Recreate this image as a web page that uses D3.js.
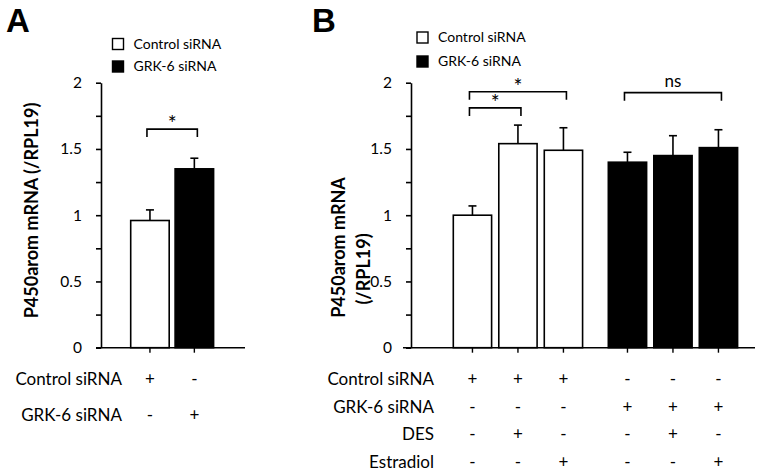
<!DOCTYPE html>
<html><head><meta charset="utf-8">
<script src="https://cdn.jsdelivr.net/npm/d3@7"></script>
<style>html,body{margin:0;padding:0;background:#fff;} svg{display:block;}</style>
</head><body>
<svg id="chart" width="762" height="476"></svg>
<script>
// ---- data ----
const legendLabels = ["Control siRNA", "GRK-6 siRNA"];
const yTicks = [0, 0.25, 0.5, 0.75, 1, 1.25, 1.5, 1.75, 2];
const yTickLabels = ["0", "", "0.5", "", "1", "", "1.5", "", "2"];

const categoriesA = ["Control siRNA", "GRK-6 siRNA"];
const valuesA = [0.96, 1.35];
const errorsA = [0.08, 0.08];
const rowLabelsA = ["Control siRNA", "GRK-6 siRNA"];
const rowSignsA = [["+", "-"], ["-", "+"]];
const bracketsA = [{ from: 0, to: 1, level: 1.65, label: "*" }];

const groupsB = ["Control siRNA", "GRK-6 siRNA"];
const conditionsB = ["Vehicle", "DES", "Estradiol"];
const valuesB = [1.00, 1.54, 1.49, 1.40, 1.45, 1.51];
const errorsB = [0.07, 0.14, 0.17, 0.075, 0.15, 0.135];
const rowLabelsB = ["Control siRNA", "GRK-6 siRNA", "DES", "Estradiol"];
const rowSignsB = [
  ["+", "+", "+", "-", "-", "-"],
  ["-", "-", "-", "+", "+", "+"],
  ["-", "+", "-", "-", "+", "-"],
  ["-", "-", "+", "-", "-", "+"]
];
const bracketsB = [
  { from: 0, to: 1, level: 1.81, label: "*" },
  { from: 0, to: 2, level: 1.932, label: "*" },
  { from: 3, to: 5, level: 1.925, label: "ns" }
];

// ---- drawing ----
const svg = d3.select("#chart");
const FONT = "Lato, 'Open Sans', sans-serif";
const y = d3.scaleLinear().domain([0, 2]).range([347.7, 82.7]);

function yAxis(g, x0) {
  const ax = d3.axisLeft(y).tickValues(yTicks)
    .tickFormat((d, i) => yTickLabels[i]).tickSize(5).tickSizeOuter(0).tickPadding(14);
  g.attr("transform", `translate(${x0},0)`).call(ax);
  g.select(".domain").attr("stroke", "#000").attr("stroke-width", 1.6);
  g.selectAll(".tick line").attr("stroke", "#000").attr("stroke-width", 1.6);
  g.selectAll(".tick text").attr("font-family", FONT).attr("font-size", 15.5).attr("fill", "#000");
}

function xAxisLine(g, x0, x1, centers) {
  g.append("line").attr("x1", x0).attr("x2", x1).attr("y1", y(0)).attr("y2", y(0))
    .attr("stroke", "#000").attr("stroke-width", 1.6);
  g.selectAll("line.tk").data(centers).join("line").attr("class", "tk")
    .attr("x1", d => d).attr("x2", d => d).attr("y1", y(0)).attr("y2", y(0) + 5)
    .attr("stroke", "#000").attr("stroke-width", 1.4);
}

function bars(g, data) {
  g.selectAll("line.err").data(data).join("line").attr("class", "err")
    .attr("x1", d => d.x + d.w / 2).attr("x2", d => d.x + d.w / 2)
    .attr("y1", d => y(d.v)).attr("y2", d => y(d.v + d.e))
    .attr("stroke", "#000").attr("stroke-width", 1.6);
  g.selectAll("line.cap").data(data).join("line").attr("class", "cap")
    .attr("x1", d => d.x + d.w / 2 - 4).attr("x2", d => d.x + d.w / 2 + 4)
    .attr("y1", d => y(d.v + d.e)).attr("y2", d => y(d.v + d.e))
    .attr("stroke", "#000").attr("stroke-width", 1.6);
  g.selectAll("rect.bar").data(data).join("rect").attr("class", "bar")
    .attr("x", d => d.x).attr("width", d => d.w)
    .attr("y", d => y(d.v)).attr("height", d => y(0) - y(d.v))
    .attr("fill", d => d.fill).attr("stroke", "#000").attr("stroke-width", 1.6);
}

function brackets(g, list, centers) {
  list.forEach(b => {
    const x1 = centers[b.from] - 3, x2 = centers[b.to] + 3;
    const yl = y(b.level);
    g.append("path").attr("d", `M${x1},${yl + 8}V${yl}H${x2}V${yl + 8}`)
      .attr("fill", "none").attr("stroke", "#000").attr("stroke-width", 1.6);
    g.append("text").attr("x", (x1 + x2) / 2).attr("y", b.label === "*" ? yl + 2 : yl - 6)
      .attr("text-anchor", "middle").attr("font-family", FONT)
      .attr("font-size", b.label === "*" ? 21 : 17).text(b.label);
  });
}

function legend(g, x0, y0, gap) {
  legendLabels.forEach((t, i) => {
    g.append("rect").attr("x", x0).attr("y", y0 + i * gap).attr("width", 11).attr("height", 11)
      .attr("fill", i === 0 ? "#fff" : "#000").attr("stroke", "#000").attr("stroke-width", 1.4);
    g.append("text").attr("x", x0 + 21).attr("y", y0 + i * gap + 10)
      .attr("font-family", FONT).attr("font-size", 14).text(t);
  });
}

function table(g, labels, signs, labelX, centers, y0, dy) {
  labels.forEach((lab, r) => {
    g.append("text").attr("x", labelX).attr("y", y0 + r * dy).attr("text-anchor", "end")
      .attr("font-family", FONT).attr("font-size", 17).text(lab);
    signs[r].forEach((s, c) => {
      g.append("text").attr("x", centers[c]).attr("y", y0 + r * dy).attr("text-anchor", "middle")
        .attr("font-family", FONT).attr("font-size", 17).text(s);
    });
  });
}

// ---- Panel A ----
const gA = svg.append("g");
const xA = d3.scaleBand().domain(categoriesA).range([130.7, 213.6]).paddingInner(0.133).paddingOuter(0);
const centersA = categoriesA.map(c => xA(c) + xA.bandwidth() / 2);
gA.append("text").attr("x", 6).attr("y", 32).attr("font-family", "'Liberation Sans', Arial, sans-serif")
  .attr("font-weight", "bold").attr("font-size", 33).text("A");
legend(gA, 112.5, 38.5, 22.5);
yAxis(gA.append("g"), 101);
xAxisLine(gA, 96, 245, centersA);
bars(gA, categoriesA.map((c, i) => ({ x: xA(c), w: xA.bandwidth(), v: valuesA[i], e: errorsA[i], fill: i === 0 ? "#fff" : "#000" })));
brackets(gA, bracketsA, centersA);
gA.append("text").attr("transform", "translate(38,210.5) rotate(-90)").attr("text-anchor", "middle")
  .attr("font-family", FONT).attr("font-weight", "bold").attr("font-size", 18).text("P450arom mRNA (/RPL19)");
table(gA, rowLabelsA, rowSignsA, 122, centersA, 385, 36);

// ---- Panel B ----
const gB = svg.append("g");
const xGroup = d3.scaleBand().domain(groupsB).range([453.3, 737.6]).paddingInner(0.166).paddingOuter(0);
const xInner = d3.scaleBand().domain(conditionsB).range([0, xGroup.bandwidth()]).paddingInner(0.158).paddingOuter(0);
const barsB = [];
groupsB.forEach((gname, gi) => conditionsB.forEach((cname, ci) => {
  const i = gi * conditionsB.length + ci;
  barsB.push({ x: xGroup(gname) + xInner(cname), w: xInner.bandwidth(), v: valuesB[i], e: errorsB[i], fill: gi === 0 ? "#fff" : "#000" });
}));
const centersB = barsB.map(d => d.x + d.w / 2);
gB.append("text").attr("x", 312).attr("y", 32).attr("font-family", "'Liberation Sans', Arial, sans-serif")
  .attr("font-weight", "bold").attr("font-size", 33).text("B");
legend(gB, 417, 32, 24);
yAxis(gB.append("g"), 411);
xAxisLine(gB, 403, 755, centersB);
bars(gB, barsB);
brackets(gB, bracketsB, centersB);
gB.append("text").attr("transform", "translate(345,247.5) rotate(-90)").attr("text-anchor", "middle")
  .attr("font-family", FONT).attr("font-weight", "bold").attr("font-size", 18).text("P450arom mRNA");
gB.append("text").attr("transform", "translate(370,269) rotate(-90)").attr("text-anchor", "middle")
  .attr("font-family", FONT).attr("font-weight", "bold").attr("font-size", 18).text("(/RPL19)");
table(gB, rowLabelsB, rowSignsB, 434, centersB, 385, 27.7);
</script>
</body></html>
